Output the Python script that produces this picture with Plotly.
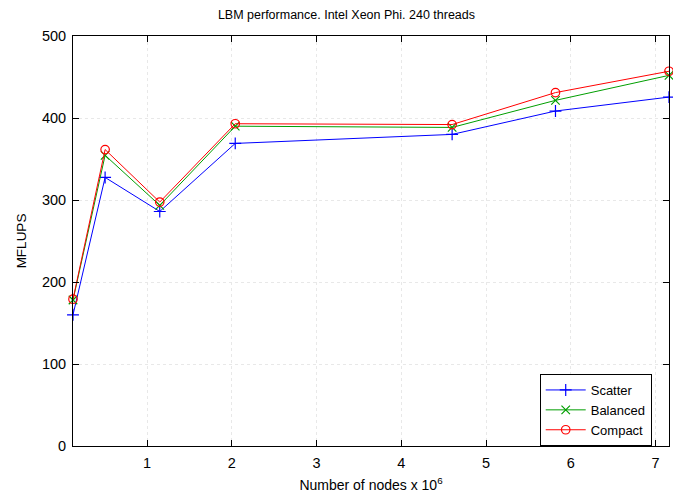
import plotly.graph_objects as go

nodes = [0.125, 0.504, 1.149, 2.04, 4.60, 5.82, 7.16]
scatter = [160, 327.5, 286, 369, 380, 408.5, 425.5]
balanced = [178, 354.5, 293.5, 390, 388.5, 421.5, 452]
compact = [179, 361.5, 297.5, 393, 392, 431, 457]

series = [
    ("Scatter", scatter, "#0000ff", "cross-thin"),
    ("Balanced", balanced, "#009e00", "x-thin"),
    ("Compact", compact, "#ff0000", "circle-open"),
]

fig = go.Figure()
for name, vals, col, sym in series:
    fig.add_trace(go.Scatter(
        x=nodes, y=vals, name=name, mode="lines+markers",
        line=dict(color=col, width=1),
        marker=dict(symbol=sym, size=8.5, color=col, line=dict(color=col, width=1.2)),
        cliponaxis=False,
    ))

font = "Liberation Sans, Arial, Helvetica, sans-serif"
axis_common = dict(
    showline=True, linecolor="black", linewidth=1, mirror="ticks",
    ticks="inside", ticklen=6, tickcolor="black",
    showgrid=True, gridcolor="#e8e8e8", griddash="dot", gridwidth=1,
    zeroline=False, tickfont=dict(size=14.5, color="black", family=font),
)

fig.update_layout(
    width=681, height=498,
    paper_bgcolor="white", plot_bgcolor="white",
    margin=dict(l=61, r=19.5, t=28, b=60),
    font=dict(family=font, color="black"),
    title=dict(text="LBM performance. Intel Xeon Phi. 240 threads",
               x=0.497, xanchor="center", y=0.996, yanchor="top",
               font=dict(size=12.5, color="black", family=font)),
    xaxis=dict(range=[0.125, 7.16], tickvals=[1, 2, 3, 4, 5, 6, 7],
               ticklabelstandoff=4,
               title=dict(text="Number of nodes x 10<sup>6</sup>", font=dict(size=14), standoff=9),
               **axis_common),
    yaxis=dict(range=[0, 500], tickvals=[0, 100, 200, 300, 400, 500],
               ticklabelstandoff=3,
               title=dict(text="MFLUPS", font=dict(size=13.5), standoff=12),
               **axis_common),
    legend=dict(x=0.971, y=0.0, xanchor="right", yanchor="bottom",
                bordercolor="black", borderwidth=1, bgcolor="white",
                font=dict(size=13, family=font), tracegroupgap=0,
                itemwidth=40),
)

fig.write_html("out.html")
